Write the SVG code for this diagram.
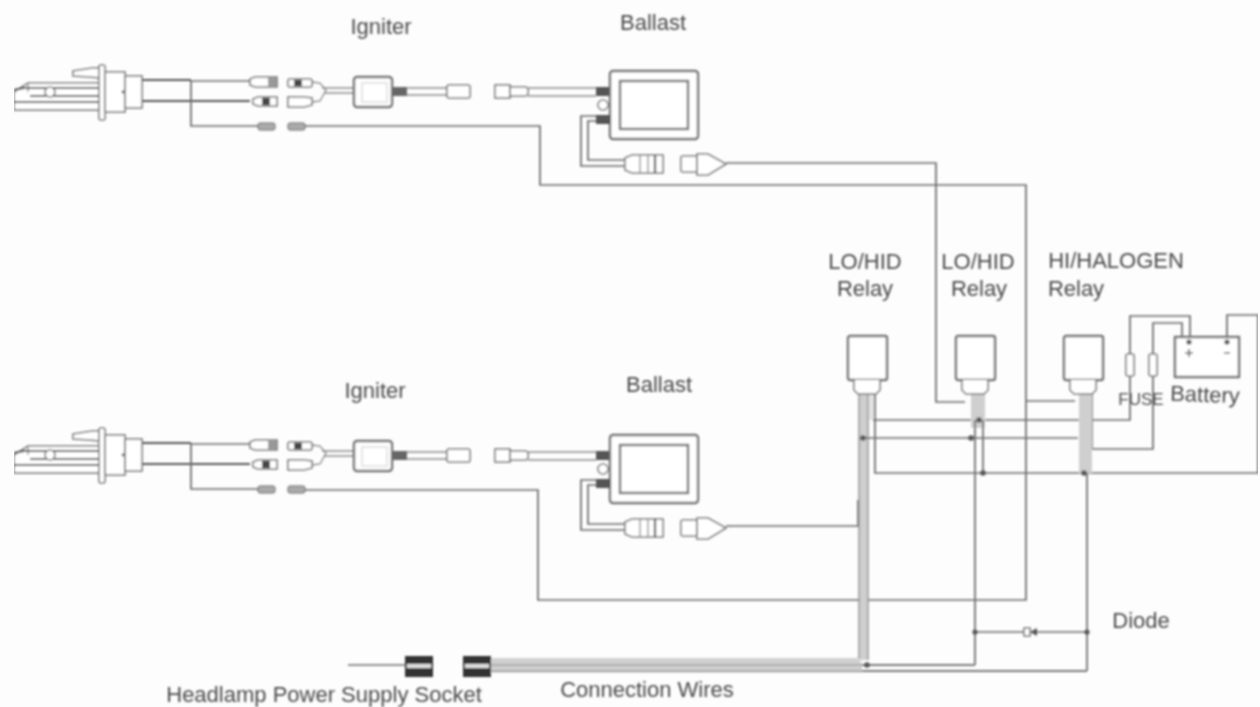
<svg xmlns="http://www.w3.org/2000/svg" width="1260" height="707" viewBox="0 0 1260 707">
<style>
.w{fill:none;stroke:#6a6a6a;stroke-width:1.7}
.t{fill:none;stroke:#8a8a8a;stroke-width:1.3}
.h{fill:none;stroke:#a8a8a8;stroke-width:1}
.d{fill:none;stroke:#555;stroke-width:2.2}
.b{fill:#fff;stroke:#777;stroke-width:1.6}
.bt{fill:#fff;stroke:#6f6f6f;stroke-width:2.4}
.k{fill:#555}
.l{font-family:"Liberation Sans",Arial,sans-serif;font-size:22px;fill:#4a4a4a;text-anchor:middle}
</style>
<defs>
<filter id="soft" x="0" y="0" width="1" height="1" filterUnits="objectBoundingBox"><feGaussianBlur stdDeviation="0.9"/></filter>
<g id="lamp">
<path class="b" d="M14 110V92L28 83H100V110Z"/>
<path class="t" d="M28 83V92M14 110H100"/>
<path class="d" d="M14 90L24 88H100M30 96H100"/>
<path class="d" d="M14 102H100"/>
<circle class="b" cx="50" cy="92" r="5"/>
<path class="b" d="M73 71L92 68H100V78L90 77L73 76Z"/>
<rect class="b" x="99" y="65" width="6" height="55" rx="2"/>
<rect class="b" x="105" y="72" width="20" height="40"/>
<rect class="b" x="125" y="76" width="17" height="32"/>
<circle class="k" cx="123" cy="92" r="1.4"/>
<path class="d" d="M142 80H191"/>
<path class="w" d="M191 81H250"/>
<path class="d" d="M142 101H250"/>
<path class="w" d="M191 81V126H258"/>
<path class="b" d="M250 79L255 77H277V87H255L250 85Z"/>
<rect x="268" y="78" width="8" height="8" fill="#999"/>
<path class="b" d="M253 99L258 97H277V106H258L253 104Z"/>
<rect x="262" y="98" width="8" height="7" fill="#444"/>
<rect x="258" y="123" width="17" height="7" rx="2" fill="#aaa" stroke="#666"/>
<rect x="288" y="123" width="17" height="7" rx="2" fill="#aaa" stroke="#666"/>
<rect class="b" x="288" y="79" width="24" height="8" rx="2"/>
<rect x="294" y="80" width="8" height="6" fill="#444"/>
<path class="b" d="M288 97H304L312 98V105L304 107H288Z"/>
<path class="t" d="M312 82L320 83L326 90L320 101L312 102"/>
<path class="t" d="M322 88H354M324 93H354"/>
</g>
<g id="igniter">
<rect class="bt" x="354" y="77" width="38" height="30" rx="3"/>
<rect x="362" y="83" width="25" height="19" fill="#fff" stroke="#ccc"/>
<rect x="393" y="87" width="14" height="9" fill="#666"/>
<path class="t" d="M407 88H447M407 95H447"/>
<rect class="b" x="447" y="85" width="23" height="13" rx="2"/>
</g>
<g id="ballast">
<rect class="b" x="495" y="85" width="15" height="13"/>
<path class="b" d="M510 87H526L528 89V94L526 96H510Z"/>
<path class="t" d="M528 88H596M528 96H596"/>
<rect x="596" y="87" width="14" height="9" fill="#555"/>
<rect class="bt" x="610" y="71" width="88" height="68" rx="3"/>
<rect class="bt" x="620" y="81" width="68" height="48"/>
<circle class="b" cx="603" cy="105" r="5"/>
<rect x="596" y="115" width="14" height="9" fill="#555"/>
<path class="w" d="M596 116H581V166H625M596 121H588V160H625"/>
<path class="b" d="M625 158L632 155H663V173H632L625 170Z"/>
<path class="t" d="M640 155V173M648 155V173"/>
<path class="d" d="M655 155V173"/>
<rect class="b" x="681" y="156" width="16" height="16" rx="2"/>
<path class="b" d="M697 154H708L726 164L708 175H697Z"/>
</g>
<g id="relay">
<rect class="bt" x="0" y="0" width="39" height="44" rx="2"/>
<path class="b" d="M6 44V54L10 58H28L32 54V44"/>
</g>
</defs>
<rect width="1260" height="707" fill="#fdfdfd"/>
<g filter="url(#soft)">
<g id="connectors">
<path class="w" d="M305 126H540V185H1026V600H538V490H305"/>
<path class="w" d="M726 163H936V402H965"/>
<path class="w" d="M726 526H858V500"/>
<path class="w" d="M1026 401H1075"/>
<path d="M859 394H868V660H859Z" fill="#cfcfcf"/>
<path class="t" d="M859 394V660M868 394V660"/>
<path d="M869 394H875V420H869Z" fill="#e2e2e2"/>
<path class="w" d="M875 394V473H1258V315H1227V340"/>
<path class="w" d="M873 420H1130V316H1190V340"/>
<path class="w" d="M862 438H1078"/>
<path class="w" d="M1092 394V449H1153V323H1182V340"/>
<path d="M971 394H985V428H971Z" fill="#cfcfcf"/>
<path class="w" d="M975 420V665M983 420V473"/>
<path d="M1079 394H1092V473H1079Z" fill="#cfcfcf"/>
<path class="w" d="M1087 473V671"/>
<path d="M490 659H862V673H490Z" fill="#e2e2e2"/>
<path class="h" d="M490 659H858M490 662H860M490 668H862"/>
<path class="t" d="M490 665H975M490 671H1087"/>
<path class="w" d="M862 665H975M862 671H1087"/>
<path class="w" d="M975 632H1087"/>
<path class="w" d="M348 665H405"/>
<circle class="k" cx="979" cy="420" r="2.8"/>
<circle class="k" cx="863" cy="438" r="2.8"/>
<circle class="k" cx="971" cy="438" r="2.8"/>
<circle class="k" cx="983" cy="473" r="2.8"/>
<circle class="k" cx="1084" cy="473" r="2.8"/>
<circle class="k" cx="867" cy="665" r="2.8"/>
<circle class="k" cx="975" cy="632" r="2.6"/>
<circle class="k" cx="1087" cy="632" r="2.6"/>
</g>
<g id="lamp-top"><use href="#lamp"/></g>
<g id="igniter-top"><use href="#igniter"/><text class="l" x="381" y="34">Igniter</text></g>
<g id="ballast-top"><use href="#ballast"/><text class="l" x="653" y="30">Ballast</text></g>
<g id="lamp-bottom"><use href="#lamp" y="363"/></g>
<g id="igniter-bottom"><use href="#igniter" y="364"/><text class="l" x="375" y="398">Igniter</text></g>
<g id="ballast-bottom"><use href="#ballast" y="364"/><text class="l" x="659" y="392">Ballast</text></g>
<g id="relay-1"><use href="#relay" x="848" y="336"/><text class="l" x="865" y="269">LO/HID</text><text class="l" x="865" y="296">Relay</text></g>
<g id="relay-2"><use href="#relay" x="956" y="336"/><text class="l" x="978" y="269">LO/HID</text><text class="l" x="979" y="296">Relay</text></g>
<g id="relay-3"><use href="#relay" x="1064" y="336"/><text class="l" x="1116" y="268">HI/HALOGEN</text><text class="l" x="1076" y="296">Relay</text></g>
<g id="fuse-1"><rect class="b" x="1126" y="354" width="8" height="22" rx="2"/></g>
<g id="fuse-2"><rect class="b" x="1149" y="354" width="8" height="22" rx="2"/></g>
<text class="l" x="1141" y="405" style="font-size:17px">FUSE</text>
<g id="battery">
<rect class="bt" x="1175" y="337" width="64" height="40"/>
<circle class="k" cx="1189" cy="342" r="2.6"/><circle class="k" cx="1227" cy="342" r="2.6"/>
<path class="w" d="M1185 353H1193M1189 349V357M1224 353H1230"/>
<text class="l" x="1205" y="402" transform="rotate(2 1205 395)">Battery</text>
</g>
<g id="diode">
<path class="b" d="M1024 628H1030V636H1024Z"/><path class="k" d="M1030 632L1037 628V636Z"/>
<text class="l" x="1141" y="628">Diode</text>
</g>
<g id="socket">
<rect x="405" y="656" width="28" height="21" fill="#333"/><rect x="407" y="664" width="24" height="4" fill="#ddd"/>
<rect x="463" y="656" width="28" height="21" fill="#333"/><rect x="465" y="664" width="24" height="4" fill="#ddd"/>
<text class="l" x="324" y="702">Headlamp Power Supply Socket</text>
</g>
<g id="wires-label"><text class="l" x="647" y="697">Connection Wires</text></g>
</g>
</svg>
